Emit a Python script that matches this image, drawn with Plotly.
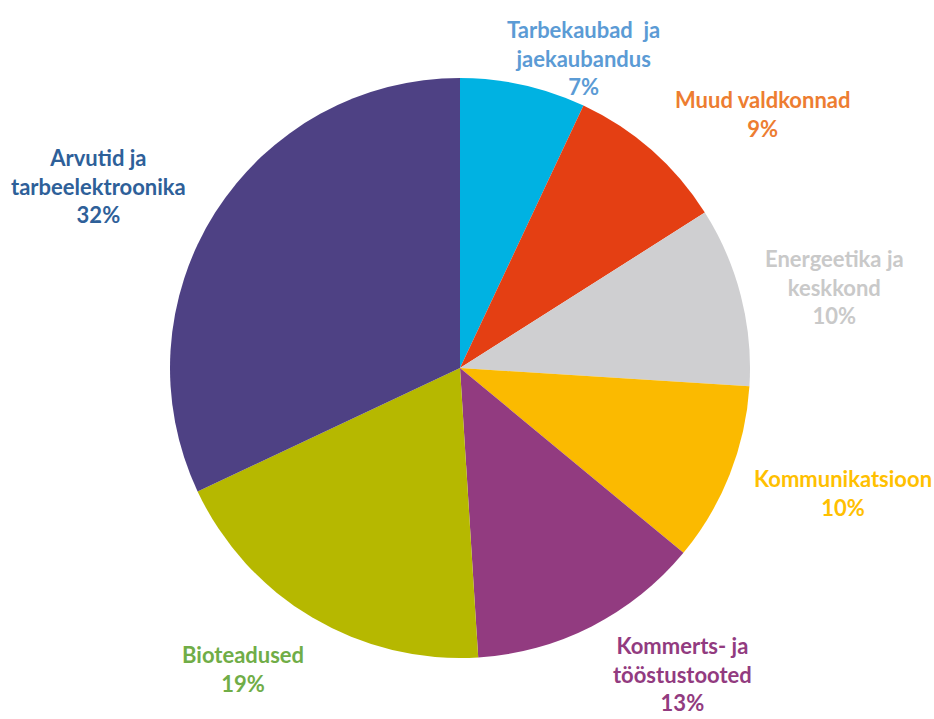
import math
import plotly.graph_objects as go

# Sector shares (%), clockwise from 12 o'clock
categories = [
    "Tarbekaubad  ja<br>jaekaubandus",
    "Muud valdkonnad",
    "Energeetika ja<br>keskkond",
    "Kommunikatsioon",
    "Kommerts- ja<br>tööstustooted",
    "Bioteadused",
    "Arvutid ja<br>tarbeelektroonika",
]
shares = [7, 9, 10, 10, 13, 19, 32]

slice_colors = ["#00B2E2", "#E43F13", "#CFCFD1", "#FBBA00", "#923B80", "#B6B800", "#4E4184"]
label_colors = ["#5B9BD5", "#ED7D31", "#C9C9C9", "#FFC000", "#923B80", "#70AD47", "#2E6099"]
# label nudges (px) from the outer edge of each slice's mid-angle
label_shift = [(60, 27), (111, 36), (94, 9), (113, -18), (91, -48), (-69, -51), (-117, 27)]

W, H = 934, 719
cx, cy, R = 460, 368, 290

fig = go.Figure(go.Pie(
    labels=categories,
    values=shares,
    sort=False,
    direction="clockwise",
    rotation=0,
    marker=dict(colors=slice_colors, line=dict(width=0)),
    textinfo="none",
    hoverinfo="label+percent",
    showlegend=False,
    domain=dict(x=[(cx - R) / W, (cx + R) / W], y=[1 - (cy + R) / H, 1 - (cy - R) / H]),
))

total = sum(shares)
cum = 0
annotations = []
for name, v, col, (dx, dy) in zip(categories, shares, label_colors, label_shift):
    mid = (cum + v / 2) / total * 2 * math.pi
    cum += v
    ax = cx + R * math.sin(mid)
    ay = cy - R * math.cos(mid)
    pct = round(v / total * 100)
    annotations.append(dict(
        x=ax / W, y=1 - ay / H, xref="paper", yref="paper",
        xshift=dx, yshift=dy,
        text=f"<b>{name}<br>{pct}%</b>",
        showarrow=False, xanchor="center", yanchor="middle", align="center",
        font=dict(family="Lato, 'Open Sans', sans-serif", size=22, color=col),
    ))

fig.update_layout(
    width=W, height=H,
    margin=dict(l=0, r=0, t=0, b=0),
    paper_bgcolor="white",
    plot_bgcolor="white",
    annotations=annotations,
)

fig.write_html("out.html")
